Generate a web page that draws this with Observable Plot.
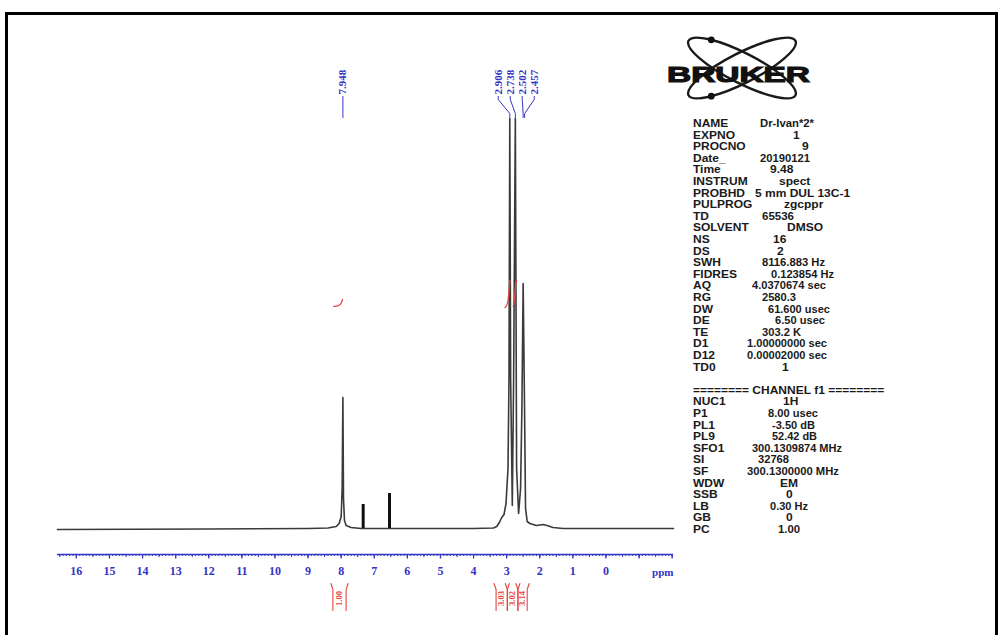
<!DOCTYPE html>
<html>
<head>
<meta charset="utf-8">
<script src="https://cdn.jsdelivr.net/npm/d3@7"></script>
<script src="https://cdn.jsdelivr.net/npm/@observablehq/plot@0.6"></script>
<style>
  html, body { margin: 0; padding: 0; background: #fff; }
  #page { position: relative; width: 1000px; height: 635px; overflow: hidden; background: #fff; }
  #page > svg { position: absolute; left: 0; top: 0; }
</style>
</head>
<body>
<div id="page"></div>
<script>
// ---- 1H trace: chemical shift (ppm) and signal height above the baseline
const tracePpm = [16.57, 12.0, 9.0, 8.40, 8.15, 8.06, 8.00, 7.97, 7.948, 7.93, 7.90, 7.85, 7.70, 7.40, 6.0, 4.0,
  3.40, 3.30, 3.22, 3.15, 3.08, 3.02, 2.96, 2.93, 2.906, 2.88, 2.83, 2.79, 2.738, 2.70, 2.64, 2.58, 2.54, 2.502,
  2.46, 2.43, 2.38, 2.30, 2.10, 1.90, 1.78, 1.60, 1.30, 0.80, 0.60, -2.04];
const traceHeight = [-1, -0.5, 0, 0.5, 2, 5, 12, 40, 131, 30, 8, 3, 1, 0, 0, 0,
  0.5, 2, 6, 11, 14, 25, 60, 150, 410, 150, 23, 150, 410, 60, 15, 40, 120, 245,
  120, 20, 7, 5, 3, 4, 3, 1, 0, 0, 0, 0];

// thick marker bars standing on the baseline
const barPpm = [7.335, 6.54];
const barHeight = [24, 35];

// picked peaks
const peakLabels = ["7.948", "2.906", "2.738", "2.502", "2.457"];
const peakPpm = [7.948, 2.906, 2.738, 2.502, 2.457];

// integral regions and their values
const integralFrom = [8.25, 3.32, 2.98, 2.66];
const integralTo = [7.85, 2.98, 2.66, 2.38];
const integralValues = ["1.00", "3.03", "3.02", "3.14"];

// running integral traces drawn over the peaks
const integralTraceId = ["a", "a", "a", "a", "a", "b", "b", "b", "b", "b", "c", "c", "c", "c", "c"];
const integralTracePpm = [8.22, 8.10, 8.02, 7.98, 7.96, 3.05, 2.98, 2.94, 2.92, 2.90, 2.80, 2.76, 2.74, 2.72, 2.70];
const integralTraceLevel = [222, 222.5, 224, 226.5, 229, 221, 223, 232, 243, 248, 222, 230, 240, 246, 248];

// axis ticks
const tickLabels = [16, 15, 14, 13, 12, 11, 10, 9, 8, 7, 6, 5, 4, 3, 2, 1, 0];
const unlabeledTicks = [-1, -2];

// acquisition / processing parameters
const acqNames = ["NAME", "EXPNO", "PROCNO", "Date_", "Time", "INSTRUM", "PROBHD", "PULPROG", "TD", "SOLVENT", "NS", "DS",
  "SWH", "FIDRES", "AQ", "RG", "DW", "DE", "TE", "D1", "D12", "TD0"];
const acqValues = ["Dr-Ivan*2*", "1", "9", "20190121", "9.48", "spect", "5 mm DUL 13C-1", "zgcppr", "65536", "DMSO", "16", "2",
  "8116.883 Hz", "0.123854 Hz", "4.0370674 sec", "2580.3", "61.600 usec", "6.50 usec", "303.2 K", "1.00000000 sec", "0.00002000 sec", "1"];
const channelTitle = "======== CHANNEL f1 ========";
const chanNames = ["NUC1", "P1", "PL1", "PL9", "SFO1", "SI", "SF", "WDW", "SSB", "LB", "GB", "PC"];
const chanValues = ["1H", "8.00 usec", "-3.50 dB", "52.42 dB", "300.1309874 MHz", "32768", "300.1300000 MHz", "EM", "0", "0.30 Hz", "0", "1.00"];

// ---- layout
const W = 1000, H = 635;
const blue = "#3434c4";
const red = "#e5463f";
const ink = "#3a3a3a";
const serif = "'Liberation Serif', 'DejaVu Serif', serif";
const sans = "'Liberation Sans', Arial, sans-serif";

const xDomain = [16.57, -2.04];
const xRange = [57, 673];
const xs = Plot.scale({x: {domain: xDomain, range: xRange}});

const trace = tracePpm.map((p, i) => ({ppm: p, h: traceHeight[i]}));
const bars = barPpm.map((p, i) => ({ppm: p, h: barHeight[i]}));
const itrace = integralTracePpm.map((p, i) => ({id: integralTraceId[i], ppm: p, v: integralTraceLevel[i]}));

// label slots: an isolated peak keeps its own position, the cluster is fanned out
const clusterPx = d3.mean(peakPpm.slice(1), p => xs.apply(p)) - 2;
const labels = peakPpm.map((p, i) => ({
  ppm: p,
  text: peakLabels[i],
  slot: i === 0 ? p : xs.invert(clusterPx + (i - 2.5) * 12)
}));
const connectors = labels.flatMap((d, i) => [
  {id: i, x: d.slot, y: 432},
  {id: i, x: d.slot, y: 429},
  {id: i, x: d.ppm, y: 415},
  {id: i, x: d.ppm, y: 411}
]);

const integrals = integralFrom.map((a, i) => ({a, b: integralTo[i], mid: (a + integralTo[i]) / 2, text: integralValues[i]}));
const brackets = integrals.flatMap((d, i) => [
  {id: "l" + i, x: d.a + 0.06, y: -55}, {id: "l" + i, x: d.a, y: -61}, {id: "l" + i, x: d.a, y: -82},
  {id: "r" + i, x: d.b - 0.06, y: -55}, {id: "r" + i, x: d.b, y: -61}, {id: "r" + i, x: d.b, y: -82}
]);

const minor = d3.range(-20, 166).map(d => d / 10);
const half = d3.range(-4, 34).map(d => d / 2);

const chart = Plot.plot({
  width: W,
  height: H,
  marginLeft: xRange[0],
  marginRight: W - xRange[1],
  marginTop: 40,
  marginBottom: 81,
  x: {domain: xDomain, axis: null},
  y: {domain: [-26, 488], axis: null},
  style: {background: "transparent", overflow: "visible"},
  marks: [
    // axis ruler
    Plot.ruleY([-26], {stroke: blue, strokeWidth: 1.6}),
    Plot.axisX({ticks: minor, tickSize: 2, tickFormat: () => "", color: blue, label: null}),
    Plot.axisX({ticks: half, tickSize: 3, tickFormat: () => "", color: blue, label: null}),
    Plot.axisX({ticks: unlabeledTicks, tickSize: 4.5, tickFormat: () => "", color: blue, label: null, strokeWidth: 1.3}),
    Plot.axisX({ticks: tickLabels, tickSize: 4.5, tickPadding: 7, color: blue, label: null, strokeWidth: 1.3,
      fontSize: 12, fontWeight: "bold", fontFamily: serif}),
    Plot.text(["ppm"], {x: xDomain[1], y: -44, text: d => d, textAnchor: "end", fill: blue,
      fontSize: 11, fontWeight: "bold", fontFamily: serif}),

    // spectrum
    Plot.line(trace, {x: "ppm", y: "h", stroke: ink, strokeWidth: 1.6, curve: "linear"}),
    Plot.ruleX(bars, {x: "ppm", y1: 0, y2: "h", stroke: "#111", strokeWidth: 3}),

    // running integrals
    Plot.line(itrace, {x: "ppm", y: "v", z: "id", stroke: red, strokeWidth: 1.3, curve: "basis"}),

    // peak labels and connectors
    Plot.line(connectors, {x: "x", y: "y", z: "id", stroke: blue, strokeWidth: 1}),
    Plot.text(labels, {x: "slot", y: 434, text: "text", rotate: -90, textAnchor: "start", lineAnchor: "middle",
      fill: blue, fontSize: 11, fontWeight: "bold", fontFamily: serif}),

    // integral brackets under the axis
    Plot.line(brackets, {x: "x", y: "y", z: "id", stroke: red, strokeWidth: 1.1}),
    Plot.text(integrals, {x: "mid", y: -70, text: "text", rotate: -90, lineAnchor: "middle",
      fill: red, fontSize: 8.5, fontWeight: "bold", fontFamily: serif})
  ]
});

const page = document.getElementById("page");
page.appendChild(chart);

// ---- overlay: frame, logo and parameter listing
const overlay = d3.select(page).append("svg")
  .attr("width", W).attr("height", H).attr("viewBox", `0 0 ${W} ${H}`);

overlay.append("rect")
  .attr("x", 6.5).attr("y", 13.5).attr("width", 990).attr("height", 700)
  .attr("fill", "none").attr("stroke", "#000").attr("stroke-width", 3);

// logo
const logo = overlay.append("g");
const cx = 742, cy = 68, rx = 60, ry = 15, tilt = 27;
[tilt, -tilt].forEach(a => {
  logo.append("ellipse")
    .attr("cx", cx).attr("cy", cy).attr("rx", rx).attr("ry", ry)
    .attr("transform", `rotate(${a} ${cx} ${cy})`)
    .attr("fill", "none").attr("stroke", "#1a1a1a").attr("stroke-width", 2.4);
});
function orbitPoint(angleDeg, tDeg) {
  const a = angleDeg * Math.PI / 180, t = tDeg * Math.PI / 180;
  const ex = rx * Math.cos(t), ey = ry * Math.sin(t);
  return [cx + ex * Math.cos(a) - ey * Math.sin(a), cy + ex * Math.sin(a) + ey * Math.cos(a)];
}
[[tilt, 228], [-tilt, 132]].forEach(([a, t]) => {
  const [px, py] = orbitPoint(a, t);
  logo.append("circle").attr("cx", px).attr("cy", py).attr("r", 3.4).attr("fill", "#111");
});
logo.append("text")
  .attr("x", 667).attr("y", 82)
  .attr("textLength", 143).attr("lengthAdjust", "spacingAndGlyphs")
  .attr("font-family", sans).attr("font-weight", 900).attr("font-size", 22)
  .attr("fill", "#111").attr("stroke", "#111").attr("stroke-width", 1.1)
  .text("BRUKER");

// parameter listing: names in one column, values placed and fitted per row
const squash = 0.86;
const params = overlay.append("g")
  .attr("transform", `scale(1, ${squash})`)
  .attr("font-family", sans).attr("font-weight", "bold").attr("font-size", 12).attr("fill", "#1a1a1a");
const rowY = i => (123 + 11.6 * i + 4) / squash;
const acqX = [760, 793, 802, 760, 770, 779, 755, 784, 762, 787, 773, 777, 762, 771, 752, 762, 768, 775, 762, 747, 747, 782];
const acqW = [54, 0, 0, 50, 0, 0, 0, 0, 32, 0, 0, 0, 63, 63, 74, 34, 62, 50, 39, 80, 80, 0];
const chanX = [783, 768, 772, 772, 752, 758, 747, 780, 786, 770, 786, 778];
const chanW = [0, 50, 43, 45, 90, 31, 92, 0, 0, 38, 0, 22];

function valueText(x, y, s, w) {
  const t = params.append("text").attr("x", x).attr("y", y).text(s);
  if (w > 0) t.attr("textLength", w).attr("lengthAdjust", "spacingAndGlyphs");
}
acqNames.forEach((n, i) => {
  params.append("text").attr("x", 693).attr("y", rowY(i)).text(n);
  valueText(acqX[i], rowY(i), acqValues[i], acqW[i]);
});
params.append("text").attr("x", 693).attr("y", rowY(23)).text(channelTitle);
chanNames.forEach((n, i) => {
  params.append("text").attr("x", 693).attr("y", rowY(24 + i)).text(n);
  valueText(chanX[i], rowY(24 + i), chanValues[i], chanW[i]);
});
</script>
</body>
</html>
